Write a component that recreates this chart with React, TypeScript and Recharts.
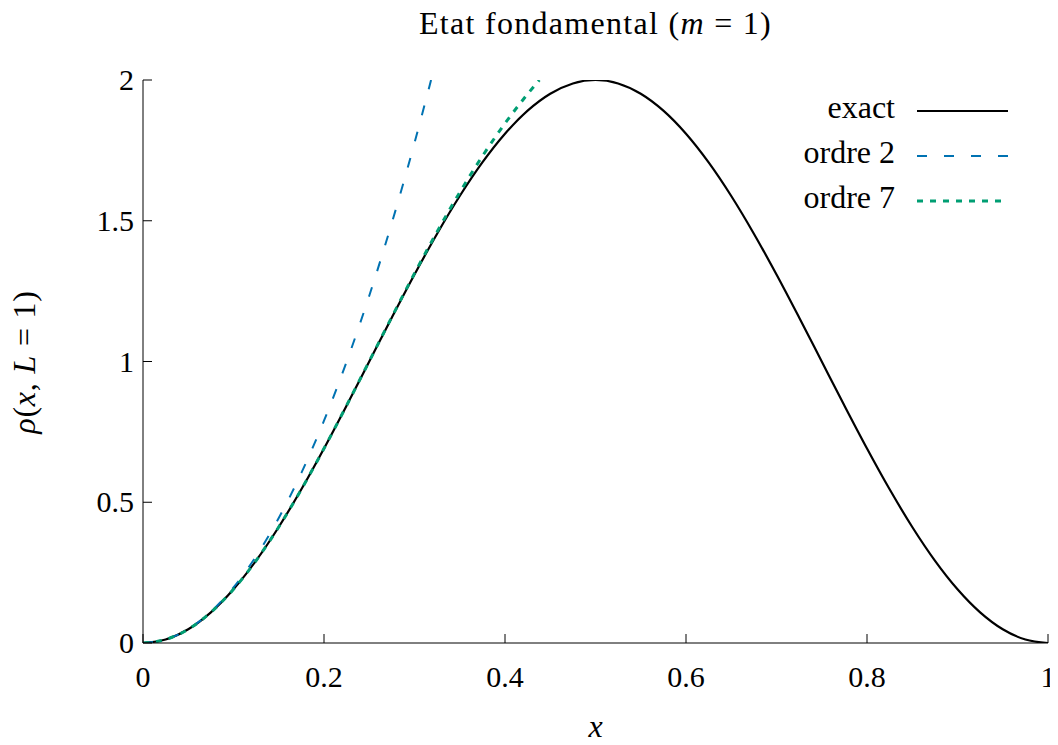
import React from 'react';
import { LineChart, Line, XAxis, YAxis, Customized } from 'recharts';

const FONT = '"Liberation Serif", "Times New Roman", serif';

// x positions and rho values
const xExact = [0, 0.025, 0.05, 0.075, 0.1, 0.125, 0.15, 0.175, 0.2, 0.225, 0.25, 0.275, 0.3, 0.325, 0.35, 0.375, 0.4, 0.425, 0.45, 0.475, 0.5, 0.525, 0.55, 0.575, 0.6, 0.625, 0.65, 0.675, 0.7, 0.725, 0.75, 0.775, 0.8, 0.825, 0.85, 0.875, 0.9, 0.925, 0.95, 0.975, 1];
const rhoExact = [0, 0.0123, 0.0489, 0.109, 0.191, 0.2929, 0.4122, 0.546, 0.691, 0.8436, 1.0, 1.1564, 1.309, 1.454, 1.5878, 1.7071, 1.809, 1.891, 1.9511, 1.9877, 2.0, 1.9877, 1.9511, 1.891, 1.809, 1.7071, 1.5878, 1.454, 1.309, 1.1564, 1.0, 0.8436, 0.691, 0.546, 0.4122, 0.2929, 0.191, 0.109, 0.0489, 0.0123, 0];

const xOrdre2 = [0, 0.025, 0.05, 0.075, 0.1, 0.125, 0.15, 0.175, 0.2, 0.225, 0.25, 0.275, 0.3, 0.3183];
const rhoOrdre2 = [0, 0.0123, 0.0493, 0.111, 0.1974, 0.3084, 0.4441, 0.6045, 0.7896, 0.9993, 1.2337, 1.4928, 1.7765, 2.0];

const xOrdre7 = [0, 0.025, 0.05, 0.075, 0.1, 0.125, 0.15, 0.175, 0.2, 0.225, 0.25, 0.275, 0.3, 0.325, 0.35, 0.375, 0.4, 0.425, 0.438];
const rhoOrdre7 = [0, 0.0123, 0.0489, 0.109, 0.191, 0.2929, 0.4122, 0.546, 0.691, 0.844, 1.0009, 1.1584, 1.3129, 1.4612, 1.6006, 1.7293, 1.8459, 1.9503, 2.0];

const xTicks = [0, 0.2, 0.4, 0.6, 0.8, 1];
const yTicks = [0, 0.5, 1, 1.5, 2];

const seriesNames = ['exact', 'ordre 2', 'ordre 7'];
const seriesColors = ['#000000', '#0072b2', '#009e73'];
const seriesDash = ['', '10 17', '6 7'];
const seriesWidth = [2.2, 2, 3];

const toData = (xs: number[], ys: number[]) => xs.map((x, i) => ({ x, y: ys[i] }));
const dataExact = toData(xExact, rhoExact);
const dataOrdre2 = toData(xOrdre2, rhoOrdre2);
const dataOrdre7 = toData(xOrdre7, rhoOrdre7);

const TICK = 9;

const BottomTick = (p: any) => (
  <g>
    <line x1={p.x} y1={p.y} x2={p.x} y2={p.y - TICK} stroke="#000" strokeWidth={1} />
    <text x={p.x} y={p.y + 44} textAnchor="middle" fontFamily={FONT} fontSize={30} fill="#000">
      {String(p.payload.value)}
    </text>
  </g>
);
const TopTick = (p: any) => (
  <line x1={p.x} y1={p.y} x2={p.x} y2={p.y + TICK} stroke="#000" strokeWidth={1} />
);
const LeftTick = (p: any) => (
  <g>
    <line x1={p.x} y1={p.y} x2={p.x + TICK} y2={p.y} stroke="#000" strokeWidth={1} />
    <text x={p.x - 9} y={p.y + 10} textAnchor="end" fontFamily={FONT} fontSize={30} fill="#000">
      {String(p.payload.value)}
    </text>
  </g>
);
const RightTick = (p: any) => (
  <line x1={p.x} y1={p.y} x2={p.x - TICK} y2={p.y} stroke="#000" strokeWidth={1} />
);

const Overlay = () => (
  <g fontFamily={FONT} fill="#000">
    <text x={595.5} y={34} textAnchor="middle" fontSize={32} letterSpacing={1.3}>
      Etat fondamental (<tspan fontStyle="italic">m</tspan> = 1)
    </text>
    <text x={595.5} y={737} textAnchor="middle" fontSize={32} fontStyle="italic">x</text>
    <text transform="translate(35,362) rotate(-90)" textAnchor="middle" fontSize={32} letterSpacing={0.8}>
      <tspan fontStyle="italic">ρ</tspan>(<tspan fontStyle="italic">x</tspan>, <tspan fontStyle="italic">L</tspan> = 1)
    </text>
    {seriesNames.map((n, i) => (
      <g key={n}>
        <text x={895} y={118 + i * 45} textAnchor="end" fontSize={32}>{n}</text>
        <line x1={917} x2={1008} y1={111 + i * 45} y2={111 + i * 45}
          stroke={seriesColors[i]} strokeWidth={seriesWidth[i]}
          strokeDasharray={seriesDash[i] || undefined} />
      </g>
    ))}
  </g>
);

export default function App() {
  return (
    <div style={{ margin: -8 }}>
      <LineChart width={1058} height={745} margin={{ top: 80, right: 10, left: 0, bottom: 0 }}>
        <XAxis xAxisId={0} dataKey="x" type="number" domain={[0, 1]} ticks={xTicks}
          height={102} tickSize={0} tickMargin={0} tick={<BottomTick />} stroke="#000"
          allowDataOverflow />
        <XAxis xAxisId="top" orientation="top" dataKey="x" type="number" domain={[0, 1]} ticks={xTicks}
          height={0} tickSize={0} tickMargin={0} tick={<TopTick />} stroke="#000" />
        <YAxis yAxisId={0} dataKey="y" type="number" domain={[0, 2]} ticks={yTicks}
          width={143} tickSize={0} tickMargin={0} tick={<LeftTick />} stroke="#000"
          allowDataOverflow />
        <YAxis yAxisId="right" orientation="right" type="number" domain={[0, 2]} ticks={yTicks}
          width={0} tickSize={0} tickMargin={0} tick={<RightTick />} stroke="#000" />
        <Line data={dataExact} dataKey="y" type="monotone" stroke={seriesColors[0]}
          strokeWidth={seriesWidth[0]} dot={false} isAnimationActive={false} />
        <Line data={dataOrdre2} dataKey="y" type="monotone" stroke={seriesColors[1]}
          strokeWidth={seriesWidth[1]} strokeDasharray={seriesDash[1]} dot={false} isAnimationActive={false} />
        <Line data={dataOrdre7} dataKey="y" type="monotone" stroke={seriesColors[2]}
          strokeWidth={seriesWidth[2]} strokeDasharray={seriesDash[2]} dot={false} isAnimationActive={false} />
        <Customized component={<Overlay />} />
      </LineChart>
    </div>
  );
}
